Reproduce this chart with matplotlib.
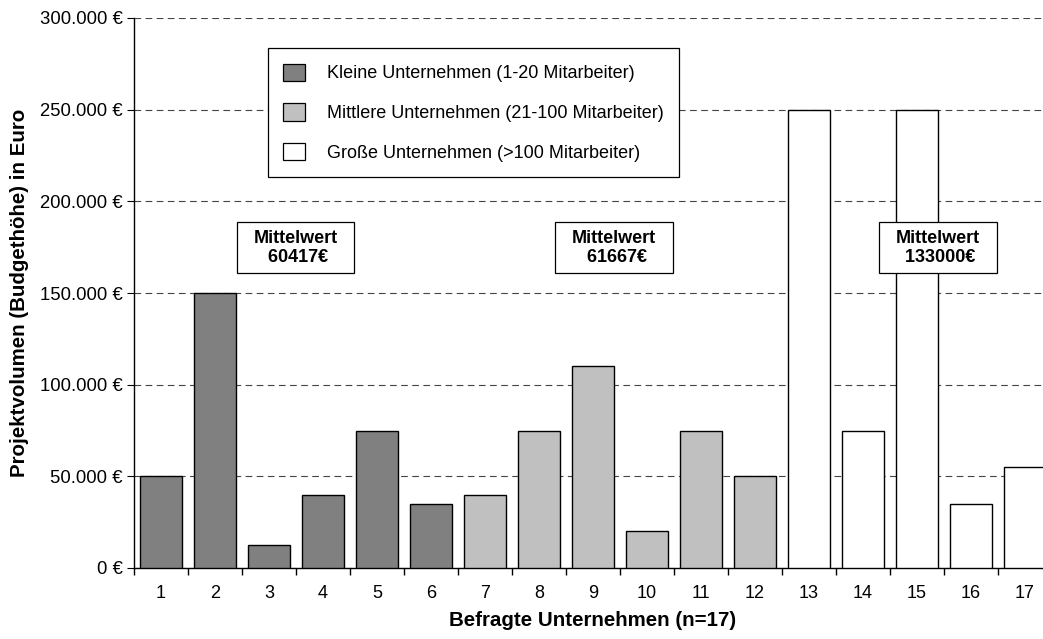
import numpy as np
import matplotlib.pyplot as plt
from matplotlib.patches import Patch, Rectangle
from matplotlib.ticker import FuncFormatter

plt.rcParams['font.family'] = ['Liberation Sans', 'DejaVu Sans']

# Projektvolumen je befragtem Unternehmen
firms = list(range(1, 18))
volume = [50000, 150000, 12500, 40000, 75000, 35000,
          40000, 75000, 110000, 20000, 75000, 50000,
          250000, 75000, 250000, 35000, 55000]
size_class = ['klein'] * 6 + ['mittel'] * 6 + ['gross'] * 5
class_labels = {
    'klein': 'Kleine Unternehmen (1-20 Mitarbeiter)',
    'mittel': 'Mittlere Unternehmen (21-100 Mitarbeiter)',
    'gross': 'Große Unternehmen (>100 Mitarbeiter)',
}
class_colors = {'klein': '#808080', 'mittel': '#c0c0c0', 'gross': '#ffffff'}
# Mitte der Mittelwert-Kästen (x in Kategorien, y in Euro)
mean_pos = {'klein': (3.49, 174800), 'mittel': (9.39, 174800), 'gross': (15.39, 174800)}
box_w, box_h = 2.17, 27800

fig = plt.figure(figsize=(10.43, 6.39), dpi=100)
ax = fig.add_axes([134 / 1043, 71 / 639, 918 / 1043, 550 / 639])

colors = [class_colors[c] for c in size_class]
ax.bar(firms, volume, width=0.78, color=colors, edgecolor='black', linewidth=1.0, zorder=3)

ax.set_xlim(0.5, 17.5)
ax.set_ylim(0, 300000)
ax.set_yticks(np.arange(0, 300001, 50000))
ax.yaxis.set_major_formatter(FuncFormatter(
    lambda v, p: '0 €' if v == 0 else f'{int(v):,} €'.replace(',', '.')))
ax.set_xticks(firms)
ax.set_xticks(np.arange(0.5, 17.6, 1), minor=True)
ax.tick_params(axis='x', which='major', length=0, pad=12, labelsize=13)
ax.tick_params(axis='x', which='minor', length=5, direction='out', width=1)
ax.tick_params(axis='y', length=5, direction='out', labelsize=13.3, pad=3)

ax.yaxis.grid(True, color='#444444', linestyle=(0, (6, 4)), linewidth=0.8, zorder=0)
for s in ['top', 'right']:
    ax.spines[s].set_visible(False)
for s in ['left', 'bottom']:
    ax.spines[s].set_linewidth(1.0)

ax.set_xlabel('Befragte Unternehmen (n=17)', fontsize=14.8, fontweight='bold', labelpad=7)
ax.set_ylabel('Projektvolumen (Budgethöhe) in Euro', fontsize=14.8, fontweight='bold', labelpad=8)

# Mittelwerte je Größenklasse
for cls, (x, y) in mean_pos.items():
    vals = [v for v, c in zip(volume, size_class) if c == cls]
    mean = round(sum(vals) / len(vals))
    ax.add_patch(Rectangle((x - box_w / 2, y - box_h / 2), box_w, box_h, facecolor='white',
                           edgecolor='black', linewidth=0.9, zorder=5))
    ax.text(x, y, f'Mittelwert\n {mean}€', ha='center', va='center', fontsize=13,
            fontweight='bold', linespacing=1.15, zorder=6)

handles = [Patch(facecolor=class_colors[c], edgecolor='black', linewidth=0.9, label=class_labels[c])
           for c in ['klein', 'mittel', 'gross']]
leg = ax.legend(handles=handles, loc='upper left', bbox_to_anchor=(0.146, 0.945), fontsize=13,
                frameon=True, fancybox=False, edgecolor='black', framealpha=1,
                handlelength=1.2, handleheight=1.1, handletextpad=1.2,
                labelspacing=1.15, borderpad=0.85, borderaxespad=0)
leg.get_frame().set_linewidth(0.9)
leg.set_zorder(7)

fig.savefig('out.png', dpi=100)
